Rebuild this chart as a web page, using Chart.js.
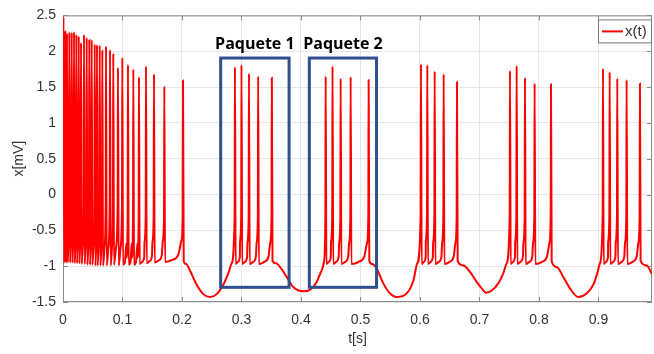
<!DOCTYPE html>
<html>
<head>
<meta charset="utf-8">
<script src="https://cdn.jsdelivr.net/npm/chart.js@4.4.1/dist/chart.umd.min.js"></script>
<style>
    html, body { margin: 0; padding: 0; background: #fff; }
</style>
</head>
<body>
<canvas id="chart" width="654" height="354"></canvas>
<script>
// Spikes: time [s], peak [mV], minimum right after the spike [mV]
const spikeTimes = [
    0.0008, 0.0038, 0.0067, 0.0106, 0.0146, 0.0185, 0.0224, 0.0264, 0.0303, 0.0353,
    0.0398, 0.0442, 0.0482, 0.0533, 0.0571, 0.0617, 0.0661, 0.0723, 0.0790, 0.0845,
    0.0924, 0.0997, 0.1092, 0.1182, 0.1277, 0.1395, 0.1529, 0.1703, 0.2017,
    0.2890, 0.3000, 0.3126, 0.3280, 0.3510,
    0.4415, 0.4530, 0.4667, 0.4835, 0.5137,
    0.6017, 0.6123, 0.6247, 0.6398, 0.6622,
    0.7513, 0.7625, 0.7765, 0.7927, 0.8202,
    0.9076, 0.9188, 0.9316, 0.9473, 0.9697,
];
const spikePeaks = [
    2.48, 2.29, 2.25, 2.27, 2.26, 2.27, 2.23, 2.21, 2.12, 2.23,
    2.19, 2.17, 2.16, 2.10, 2.09, 2.08, 2.02, 2.07, 2.02, 1.97,
    1.77, 1.91, 1.81, 1.75, 1.64, 1.79, 1.68, 1.51, 1.59,
    1.78, 1.81, 1.69, 1.65, 1.63,
    1.65, 1.79, 1.62, 1.64, 1.60,
    1.82, 1.81, 1.72, 1.68, 1.57,
    1.73, 1.80, 1.63, 1.55, 1.54,
    1.76, 1.71, 1.62, 1.60, 1.55,
];
const spikeTroughs = [
    -0.95, -0.95, -0.95, -0.95, -0.95, -0.96, -0.96, -0.96, -0.97, -0.97,
    -0.98, -0.98, -0.98, -0.99, -0.99, -0.99, -0.99, -0.99, -0.99, -0.98,
    -0.99, -0.98, -0.98, -0.98, -0.97, -0.96, -0.95, -0.94, -0.93,
    -0.97, -0.97, -0.97, -0.97, -0.93,
    -0.97, -0.97, -0.97, -0.97, -0.93,
    -0.97, -0.97, -0.97, -0.97, -0.93,
    -0.97, -0.97, -0.97, -0.97, -0.93,
    -0.97, -0.97, -0.97, -0.97, -0.93,
];

// Slow wave between the bursts
const waveTimes = [
    0,
    0.2070, 0.2134, 0.2247, 0.2358, 0.2470, 0.2583, 0.2694, 0.2778, 0.2835,
    0.3580, 0.3647, 0.3760, 0.3870, 0.4040, 0.4150, 0.4264, 0.4348, 0.4387,
    0.5195, 0.5270, 0.5383, 0.5496, 0.5608, 0.5777, 0.5890, 0.5955,
    0.6728, 0.6840, 0.6953, 0.7037, 0.7110, 0.7205, 0.7316, 0.7400, 0.7457,
    0.8297, 0.8409, 0.8520, 0.8660, 0.8800, 0.8913, 0.8980, 0.9025,
    0.9810, 0.9900,
];
const waveValues = [
    0,
    -0.97, -1.06, -1.26, -1.39, -1.43, -1.39, -1.26, -1.10, -0.96,
    -0.96, -1.01, -1.15, -1.29, -1.35, -1.33, -1.22, -1.06, -0.94,
    -0.97, -1.03, -1.24, -1.38, -1.43, -1.38, -1.20, -0.96,
    -0.99, -1.08, -1.22, -1.31, -1.37, -1.34, -1.24, -1.10, -0.96,
    -1.01, -1.15, -1.31, -1.43, -1.38, -1.26, -1.10, -0.96,
    -0.99, -1.11,
];

const xTicks = [0, 0.1, 0.2, 0.3, 0.4, 0.5, 0.6, 0.7, 0.8, 0.9];
const yTicks = [-1.5, -1, -0.5, 0, 0.5, 1, 1.5, 2, 2.5];

// Boxes drawn around two bursts
const packetNames = ['Paquete 1', 'Paquete 2'];
const packetStart = [0.265, 0.414];
const packetEnd = [0.380, 0.527];
const packetTop = 1.905;
const packetBottom = -1.295;

const TEXT = '#333333';
const FRAME = '#8a8a8a';
const FONT = "'Liberation Sans', Arial, sans-serif";

// spike outline: fast upstroke, fast fall, slow recovery to the next one
const buildTrace = () => {
    const points = waveTimes.map((t, i) => ({ x: t, y: waveValues[i] }));
    spikeTimes.forEach((t, i) => {
        const prevGap = i > 0 ? t - spikeTimes[i - 1] : 0;
        if (i > 0) points.push({ x: t - 0.0005, y: prevGap < 0.008 ? -0.1 : -0.3 });
        points.push({ x: t, y: spikePeaks[i] });
        points.push({ x: t + 0.0012, y: spikeTroughs[i] });
        const next = spikeTimes[i + 1];
        const gap = next - t;
        if (next === undefined || gap > 0.035) return;
        if (gap > 0.008) {
            points.push({ x: t + 0.45 * gap, y: spikeTroughs[i] + 0.03 });
            points.push({ x: t + 0.75 * gap, y: spikeTroughs[i] + 0.1 });
            points.push({ x: next - 0.0025, y: spikeTroughs[i] + 0.3 });
        } else {
            points.push({ x: t + 0.6 * gap, y: spikeTroughs[i] + 0.25 });
        }
    });
    return points.sort((a, b) => a.x - b.x);
};

const framePlugin = {
    id: 'frame',
    beforeDatasetsDraw(chart) {
        const { ctx, chartArea: a, scales: { x, y } } = chart;
        ctx.save();
        ctx.strokeStyle = FRAME;
        ctx.lineWidth = 1;
        ctx.strokeRect(a.left + 0.5, a.top + 0.5, a.right - a.left - 1, a.bottom - a.top - 1);
        ctx.beginPath();
        xTicks.forEach((v) => {
            const px = Math.round(x.getPixelForValue(v)) + 0.5;
            ctx.moveTo(px, a.bottom);
            ctx.lineTo(px, a.bottom - 5);
            ctx.moveTo(px, a.top);
            ctx.lineTo(px, a.top + 5);
        });
        yTicks.forEach((v) => {
            const py = Math.round(y.getPixelForValue(v)) + 0.5;
            ctx.moveTo(a.left, py);
            ctx.lineTo(a.left + 5, py);
            ctx.moveTo(a.right, py);
            ctx.lineTo(a.right - 5, py);
        });
        ctx.stroke();
        ctx.restore();
    },
    afterDatasetsDraw(chart) {
        const { ctx, scales: { x, y } } = chart;
        ctx.save();
        // packets
        ctx.strokeStyle = '#2F4F8F';
        ctx.lineWidth = 3;
        ctx.fillStyle = '#000';
        ctx.font = "bold 16px 'Open Sans', sans-serif";
        ctx.textAlign = 'center';
        ctx.textBaseline = 'middle';
        packetNames.forEach((name, i) => {
            const l = x.getPixelForValue(packetStart[i]);
            const r = x.getPixelForValue(packetEnd[i]);
            const t = y.getPixelForValue(packetTop);
            const b = y.getPixelForValue(packetBottom);
            ctx.strokeRect(l, t, r - l, b - t);
            ctx.fillText(name, (l + r) / 2, t - 14);
        });

        // legend
        const a = chart.chartArea;
        const lx = a.right - 54;
        const ly = a.top + 4;
        ctx.fillStyle = '#fff';
        ctx.fillRect(lx, ly, 53, 23);
        ctx.strokeStyle = '#7a7a7a';
        ctx.lineWidth = 1;
        ctx.strokeRect(lx + 0.5, ly + 0.5, 53, 23);
        ctx.strokeStyle = '#ff0000';
        ctx.lineWidth = 2;
        ctx.beginPath();
        ctx.moveTo(lx + 4, ly + 12);
        ctx.lineTo(lx + 25, ly + 12);
        ctx.stroke();
        ctx.fillStyle = TEXT;
        ctx.font = `15px ${FONT}`;
        ctx.textAlign = 'left';
        ctx.fillText('x(t)', lx + 27, ly + 12.5);
        ctx.restore();
    },
};

new Chart(document.getElementById('chart'), {
    type: 'line',
    data: {
        datasets: [{
            label: 'x(t)',
            data: buildTrace(),
            borderColor: '#ff0000',
            borderWidth: 2,
            pointRadius: 0,
            cubicInterpolationMode: 'monotone',
            fill: false,
        }],
    },
    options: {
        responsive: false,
        animation: false,
        layout: { padding: { top: 14, right: 2, left: 0, bottom: 0 } },
        plugins: { legend: { display: false }, tooltip: { enabled: false } },
        scales: {
            x: {
                type: 'linear',
                min: 0,
                max: 0.99,
                afterBuildTicks: (s) => { s.ticks = xTicks.map((v) => ({ value: v })); },
                afterFit: (s) => { s.height = 52; },
                grid: { color: '#e6e6e6', drawTicks: false },
                border: { display: false },
                ticks: {
                    padding: 10,
                    color: TEXT,
                    font: { family: FONT, size: 14 },
                    maxRotation: 0,
                    callback: (v) => String(Math.round(v * 10) / 10),
                },
                title: {
                    display: true,
                    text: 't[s]',
                    color: TEXT,
                    font: { family: FONT, size: 14 },
                    padding: { top: 0, bottom: 6 },
                },
            },
            y: {
                min: -1.5,
                max: 2.5,
                afterBuildTicks: (s) => { s.ticks = yTicks.map((v) => ({ value: v })); },
                afterFit: (s) => { s.width = 63; },
                grid: { color: '#e6e6e6', drawTicks: false },
                border: { display: false },
                ticks: {
                    padding: 7,
                    color: TEXT,
                    font: { family: FONT, size: 14 },
                    callback: (v) => String(v),
                },
                title: {
                    display: true,
                    text: 'x[mV]',
                    color: TEXT,
                    font: { family: FONT, size: 14 },
                    padding: { top: 11, bottom: 0 },
                },
            },
        },
    },
    plugins: [framePlugin],
});
</script>
</body>
</html>
